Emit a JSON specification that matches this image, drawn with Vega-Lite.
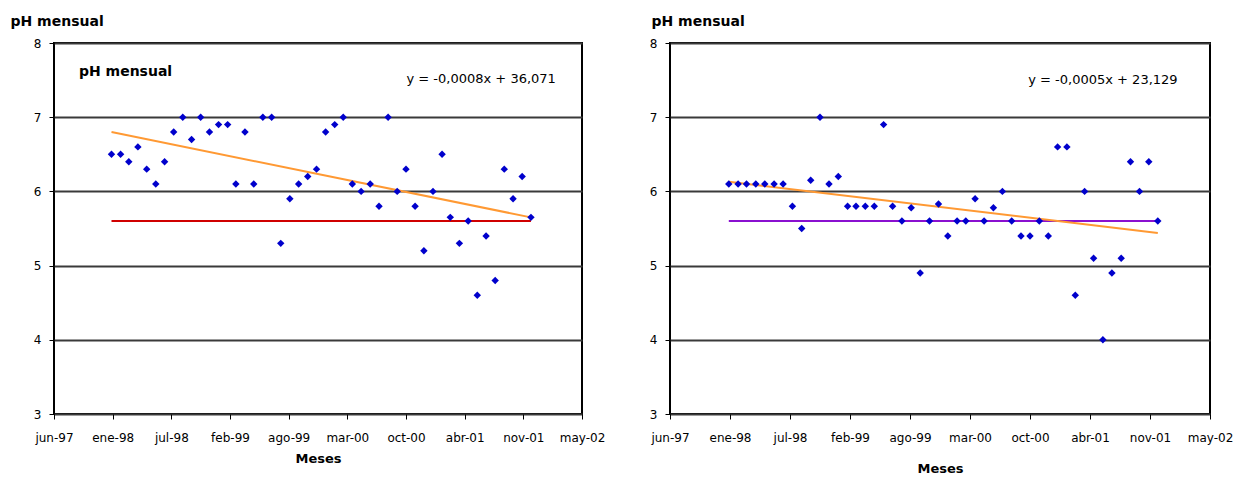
{
  "$schema": "https://vega.github.io/schema/vega-lite/v6.json",
  "background": "white",
  "padding": {"left": 9, "top": 13, "right": 0, "bottom": 0},
  "bounds": "flush",
  "spacing": 88,
  "config": {
    "font": "DejaVu Sans",
    "view": {"stroke": "black", "strokeWidth": 2},
    "axis": {"labelColor": "black", "titleColor": "black", "tickColor": "black", "labelFont": "DejaVu Sans", "titleFont": "DejaVu Sans", "labelFontSize": 12}
  },
  "datasets": {
    "izq": [
      {"date": "1998-01-01", "ph": 6.5}, {"date": "1998-02-01", "ph": 6.5}, {"date": "1998-03-01", "ph": 6.4}, {"date": "1998-04-01", "ph": 6.6},
      {"date": "1998-05-01", "ph": 6.3}, {"date": "1998-06-01", "ph": 6.1}, {"date": "1998-07-01", "ph": 6.4}, {"date": "1998-08-01", "ph": 6.8},
      {"date": "1998-09-01", "ph": 7.0}, {"date": "1998-10-01", "ph": 6.7}, {"date": "1998-11-01", "ph": 7.0}, {"date": "1998-12-01", "ph": 6.8},
      {"date": "1999-01-01", "ph": 6.9}, {"date": "1999-02-01", "ph": 6.9}, {"date": "1999-03-01", "ph": 6.1}, {"date": "1999-04-01", "ph": 6.8},
      {"date": "1999-05-01", "ph": 6.1}, {"date": "1999-06-01", "ph": 7.0}, {"date": "1999-07-01", "ph": 7.0}, {"date": "1999-08-01", "ph": 5.3},
      {"date": "1999-09-01", "ph": 5.9}, {"date": "1999-10-01", "ph": 6.1}, {"date": "1999-11-01", "ph": 6.2}, {"date": "1999-12-01", "ph": 6.3},
      {"date": "2000-01-01", "ph": 6.8}, {"date": "2000-02-01", "ph": 6.9}, {"date": "2000-03-01", "ph": 7.0}, {"date": "2000-04-01", "ph": 6.1},
      {"date": "2000-05-01", "ph": 6.0}, {"date": "2000-06-01", "ph": 6.1}, {"date": "2000-07-01", "ph": 5.8}, {"date": "2000-08-01", "ph": 7.0},
      {"date": "2000-09-01", "ph": 6.0}, {"date": "2000-10-01", "ph": 6.3}, {"date": "2000-11-01", "ph": 5.8}, {"date": "2000-12-01", "ph": 5.2},
      {"date": "2001-01-01", "ph": 6.0}, {"date": "2001-02-01", "ph": 6.5}, {"date": "2001-03-01", "ph": 5.65}, {"date": "2001-04-01", "ph": 5.3},
      {"date": "2001-05-01", "ph": 5.6}, {"date": "2001-06-01", "ph": 4.6}, {"date": "2001-07-01", "ph": 5.4}, {"date": "2001-08-01", "ph": 4.8},
      {"date": "2001-09-01", "ph": 6.3}, {"date": "2001-10-01", "ph": 5.9}, {"date": "2001-11-01", "ph": 6.2}, {"date": "2001-12-01", "ph": 5.65}
    ],
    "der": [
      {"date": "1998-01-01", "ph": 6.1}, {"date": "1998-02-01", "ph": 6.1}, {"date": "1998-03-01", "ph": 6.1}, {"date": "1998-04-01", "ph": 6.1},
      {"date": "1998-05-01", "ph": 6.1}, {"date": "1998-06-01", "ph": 6.1}, {"date": "1998-07-01", "ph": 6.1}, {"date": "1998-08-01", "ph": 5.8},
      {"date": "1998-09-01", "ph": 5.5}, {"date": "1998-10-01", "ph": 6.15}, {"date": "1998-11-01", "ph": 7.0}, {"date": "1998-12-01", "ph": 6.1},
      {"date": "1999-01-01", "ph": 6.2}, {"date": "1999-02-01", "ph": 5.8}, {"date": "1999-03-01", "ph": 5.8}, {"date": "1999-04-01", "ph": 5.8},
      {"date": "1999-05-01", "ph": 5.8}, {"date": "1999-06-01", "ph": 6.9}, {"date": "1999-07-01", "ph": 5.8}, {"date": "1999-08-01", "ph": 5.6},
      {"date": "1999-09-01", "ph": 5.78}, {"date": "1999-10-01", "ph": 4.9}, {"date": "1999-11-01", "ph": 5.6}, {"date": "1999-12-01", "ph": 5.83},
      {"date": "2000-01-01", "ph": 5.4}, {"date": "2000-02-01", "ph": 5.6}, {"date": "2000-03-01", "ph": 5.6}, {"date": "2000-04-01", "ph": 5.9},
      {"date": "2000-05-01", "ph": 5.6}, {"date": "2000-06-01", "ph": 5.78}, {"date": "2000-07-01", "ph": 6.0}, {"date": "2000-08-01", "ph": 5.6},
      {"date": "2000-09-01", "ph": 5.4}, {"date": "2000-10-01", "ph": 5.4}, {"date": "2000-11-01", "ph": 5.6}, {"date": "2000-12-01", "ph": 5.4},
      {"date": "2001-01-01", "ph": 6.6}, {"date": "2001-02-01", "ph": 6.6}, {"date": "2001-03-01", "ph": 4.6}, {"date": "2001-04-01", "ph": 6.0},
      {"date": "2001-05-01", "ph": 5.1}, {"date": "2001-06-01", "ph": 4.0}, {"date": "2001-07-01", "ph": 4.9}, {"date": "2001-08-01", "ph": 5.1},
      {"date": "2001-09-01", "ph": 6.4}, {"date": "2001-10-01", "ph": 6.0}, {"date": "2001-11-01", "ph": 6.4}, {"date": "2001-12-01", "ph": 5.6}
    ],
    "lineasIzq": [
      {"date": "1998-01-01", "ph": 5.6, "serie": "media"},
      {"date": "2001-12-01", "ph": 5.6, "serie": "media"},
      {"date": "1998-01-01", "ph": 6.8, "serie": "tendencia"},
      {"date": "2001-12-01", "ph": 5.65, "serie": "tendencia"}
    ],
    "lineasDer": [
      {"date": "1998-01-01", "ph": 5.6, "serie": "media"},
      {"date": "2001-12-01", "ph": 5.6, "serie": "media"},
      {"date": "1998-01-01", "ph": 6.13, "serie": "tendencia"},
      {"date": "2001-12-01", "ph": 5.44, "serie": "tendencia"}
    ],
    "notas": [
      {"panel": "izq", "tipo": "titulo", "date": "1997-09-12", "ph": 7.61, "texto": "pH mensual"},
      {"panel": "izq", "tipo": "ecuacion", "date": "2002-02-24", "ph": 7.51, "texto": "y = -0,0008x + 36,071"},
      {"panel": "der", "tipo": "ecuacion", "date": "2002-02-05", "ph": 7.5, "texto": "y = -0,0005x + 23,129"}
    ]
  },
  "hconcat": [
    {
      "width": 528,
      "height": 371,
      "encoding": {
        "x": {
          "field": "date", "type": "temporal",
          "scale": {"type": "utc", "domain": [{"year": 1997, "month": 6, "date": 19, "utc": true}, {"year": 2002, "month": 5, "date": 24, "utc": true}]},
          "axis": {
            "values": [
              {"year": 1997, "month": 6, "date": 19, "utc": true}, {"year": 1998, "month": 1, "date": 5, "utc": true},
              {"year": 1998, "month": 7, "date": 24, "utc": true}, {"year": 1999, "month": 2, "date": 9, "utc": true},
              {"year": 1999, "month": 8, "date": 28, "utc": true}, {"year": 2000, "month": 3, "date": 15, "utc": true},
              {"year": 2000, "month": 10, "date": 1, "utc": true}, {"year": 2001, "month": 4, "date": 19, "utc": true},
              {"year": 2001, "month": 11, "date": 5, "utc": true}, {"year": 2002, "month": 5, "date": 24, "utc": true}
            ],
            "labelExpr": "['ene','feb','mar','abr','may','jun','jul','ago','sep','oct','nov','dic'][utcmonth(datum.value)] + '-' + utcFormat(datum.value, '%y')",
            "grid": false, "domain": false, "tickSize": 5, "labelPadding": 13, "labelBaseline": "top", "labelFlush": false,
            "title": "Meses", "titleFontSize": 13, "titleFontWeight": "bold", "titleBaseline": "middle", "titleY": 44
          }
        },
        "y": {
          "field": "ph", "type": "quantitative",
          "scale": {"domain": [3, 8], "nice": false, "zero": false},
          "axis": {
            "values": [3, 4, 5, 6, 7, 8], "domain": false, "tickSize": 5, "labelPadding": 8,
            "grid": true, "gridColor": "#3a3a3a", "gridWidth": 2,
            "title": "pH mensual", "titleAngle": 0, "titleAlign": "left", "titleBaseline": "alphabetic",
            "titleX": -44, "titleY": -18, "titleFontSize": 14, "titleFontWeight": "bold"
          }
        }
      },
      "layer": [
        {
          "data": {"name": "lineasIzq"},
          "mark": {"type": "line", "strokeWidth": 2},
          "encoding": {
            "color": {"field": "serie", "type": "nominal", "scale": {"domain": ["media", "tendencia"], "range": ["#D00000", "#FF9933"]}, "legend": null}
          }
        },
        {
          "data": {"name": "izq"},
          "mark": {"type": "point", "shape": "diamond", "filled": true, "size": 55, "color": "#0000CC", "opacity": 1}
        },
        {
          "data": {"name": "notas"},
          "transform": [{"filter": "datum.panel == 'izq' && datum.tipo == 'titulo'"}],
          "mark": {"type": "text", "align": "left", "baseline": "middle", "fontSize": 14, "fontWeight": "bold", "color": "black"},
          "encoding": {"text": {"field": "texto"}}
        },
        {
          "data": {"name": "notas"},
          "transform": [{"filter": "datum.panel == 'izq' && datum.tipo == 'ecuacion'"}],
          "mark": {"type": "text", "align": "right", "baseline": "middle", "fontSize": 13, "color": "black"},
          "encoding": {"text": {"field": "texto"}}
        }
      ]
    },
    {
      "width": 540,
      "height": 371,
      "encoding": {
        "x": {
          "field": "date", "type": "temporal",
          "scale": {"type": "utc", "domain": [{"year": 1997, "month": 6, "date": 19, "utc": true}, {"year": 2002, "month": 5, "date": 24, "utc": true}]},
          "axis": {
            "values": [
              {"year": 1997, "month": 6, "date": 19, "utc": true}, {"year": 1998, "month": 1, "date": 5, "utc": true},
              {"year": 1998, "month": 7, "date": 24, "utc": true}, {"year": 1999, "month": 2, "date": 9, "utc": true},
              {"year": 1999, "month": 8, "date": 28, "utc": true}, {"year": 2000, "month": 3, "date": 15, "utc": true},
              {"year": 2000, "month": 10, "date": 1, "utc": true}, {"year": 2001, "month": 4, "date": 19, "utc": true},
              {"year": 2001, "month": 11, "date": 5, "utc": true}, {"year": 2002, "month": 5, "date": 24, "utc": true}
            ],
            "labelExpr": "['ene','feb','mar','abr','may','jun','jul','ago','sep','oct','nov','dic'][utcmonth(datum.value)] + '-' + utcFormat(datum.value, '%y')",
            "grid": false, "domain": false, "tickSize": 5, "labelPadding": 13, "labelBaseline": "top", "labelFlush": false,
            "title": "Meses", "titleFontSize": 13, "titleFontWeight": "bold", "titleBaseline": "middle", "titleY": 54
          }
        },
        "y": {
          "field": "ph", "type": "quantitative",
          "scale": {"domain": [3, 8], "nice": false, "zero": false},
          "axis": {
            "values": [3, 4, 5, 6, 7, 8], "domain": false, "tickSize": 5, "labelPadding": 8,
            "grid": true, "gridColor": "#3a3a3a", "gridWidth": 2,
            "title": "pH mensual", "titleAngle": 0, "titleAlign": "left", "titleBaseline": "alphabetic",
            "titleX": -19, "titleY": -18, "titleFontSize": 14, "titleFontWeight": "bold"
          }
        }
      },
      "layer": [
        {
          "data": {"name": "lineasDer"},
          "mark": {"type": "line", "strokeWidth": 2},
          "encoding": {
            "color": {"field": "serie", "type": "nominal", "scale": {"domain": ["media", "tendencia"], "range": ["#8A10D0", "#FF9933"]}, "legend": null}
          }
        },
        {
          "data": {"name": "der"},
          "mark": {"type": "point", "shape": "diamond", "filled": true, "size": 55, "color": "#0000CC", "opacity": 1}
        },
        {
          "data": {"name": "notas"},
          "transform": [{"filter": "datum.panel == 'der' && datum.tipo == 'ecuacion'"}],
          "mark": {"type": "text", "align": "right", "baseline": "middle", "fontSize": 13, "color": "black"},
          "encoding": {"text": {"field": "texto"}}
        }
      ]
    }
  ],
  "resolve": {"scale": {"color": "independent"}}
}
